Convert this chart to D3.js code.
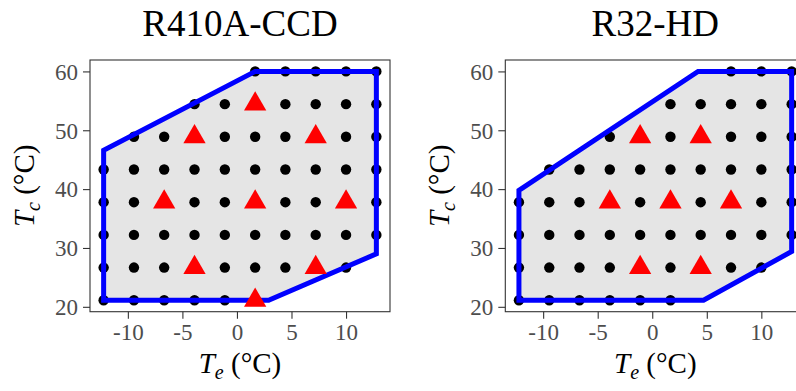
<!DOCTYPE html>
<html>
<head>
<meta charset="utf-8">
<script src="https://cdn.jsdelivr.net/npm/d3@7"></script>
<style>
  body { margin: 0; background: #fff; }
  svg, svg text { font-family: "Liberation Serif", "Times New Roman", serif; }
</style>
</head>
<body>
<div id="chart"></div>
<script>
// evaporating / condensing temperatures of the test grid (°C)
const teGrid = [-12.22, -9.44, -6.67, -3.89, -1.11, 1.67, 4.44, 7.22, 10.00, 12.78];
const tcGrid = [21.11, 26.67, 32.22, 37.78, 43.33, 48.89, 54.44, 60.00];

const xTicks = [-10, -5, 0, 5, 10];
const yTicks = [20, 30, 40, 50, 60];

const titles = ['R410A-CCD', 'R32-HD'];

// dots per row: [Tc, [Te...]]
const r410aDots = [
  [60.00, [1.67, 4.44, 7.22, 10.00, 12.78]],
  [54.44, [-3.89, -1.11, 1.67, 4.44, 7.22, 10.00, 12.78]],
  [48.89, [-9.44, -6.67, -3.89, -1.11, 1.67, 4.44, 7.22, 10.00, 12.78]],
  [43.33, [-12.22, -9.44, -6.67, -3.89, -1.11, 1.67, 4.44, 7.22, 10.00, 12.78]],
  [37.78, [-12.22, -9.44, -6.67, -3.89, -1.11, 1.67, 4.44, 7.22, 10.00, 12.78]],
  [32.22, [-12.22, -9.44, -6.67, -3.89, -1.11, 1.67, 4.44, 7.22, 10.00, 12.78]],
  [26.67, [-12.22, -9.44, -6.67, -3.89, -1.11, 1.67, 4.44, 7.22, 10.00]],
  [21.11, [-12.22, -9.44, -6.67, -3.89, -1.11, 1.67]]
];
const r410aTests = [
  [1.67, 54.44], [-3.89, 48.89], [7.22, 48.89],
  [-6.67, 37.78], [1.67, 37.78], [10.00, 37.78],
  [-3.89, 26.67], [7.22, 26.67], [1.67, 21.11]
];
const r410aEnvelope = [
  [-12.22, 21.11], [-12.22, 46.6], [1.67, 60.00],
  [12.78, 60.00], [12.78, 29.0], [2.9, 21.11]
];

const r32Dots = [
  [60.00, [7.22, 10.00, 12.78]],
  [54.44, [1.67, 4.44, 7.22, 10.00, 12.78]],
  [48.89, [-3.89, -1.11, 1.67, 4.44, 7.22, 10.00, 12.78]],
  [43.33, [-9.44, -6.67, -3.89, -1.11, 1.67, 4.44, 7.22, 10.00, 12.78]],
  [37.78, [-12.22, -9.44, -6.67, -3.89, -1.11, 1.67, 4.44, 7.22, 10.00, 12.78]],
  [32.22, [-12.22, -9.44, -6.67, -3.89, -1.11, 1.67, 4.44, 7.22, 10.00, 12.78]],
  [26.67, [-12.22, -9.44, -6.67, -3.89, -1.11, 1.67, 4.44, 7.22, 10.00]],
  [21.11, [-12.22, -9.44, -6.67, -3.89, -1.11, 1.67]]
];
const r32Tests = [
  [-1.11, 48.89], [4.44, 48.89],
  [-3.89, 37.78], [1.67, 37.78], [7.22, 37.78],
  [-1.11, 26.67], [4.44, 26.67]
];
const r32Envelope = [
  [-12.22, 21.11], [-12.22, 39.8], [4.2, 60.00],
  [12.78, 60.00], [12.78, 29.4], [4.7, 21.11]
];

const width = 796, height = 391;
const panelW = 300, panelTop = 60, panelBottom = 311.7;
const serif = '"Liberation Serif", "Times New Roman", serif';

const svg = d3.select('#chart')
  .append('svg')
  .attr('width', width)
  .attr('height', height);

svg.append('rect').attr('width', width).attr('height', height).attr('fill', '#fff');

// same expansion for both panels (5% of data range)
const x = d3.scaleLinear().domain([-13.47, 14.03]).range([0, panelW]);
const y = d3.scaleLinear().domain([19.17, 61.94]).range([panelBottom, panelTop]);

function drawPanel(left, title, dotRows, tests, envelope) {
  const g = svg.append('g').attr('transform', `translate(${left},0)`);
  const clipId = 'clip' + Math.round(left);
  g.append('clipPath').attr('id', clipId)
    .append('rect').attr('x', 0).attr('y', panelTop)
    .attr('width', panelW).attr('height', panelBottom - panelTop);

  const plot = g.append('g').attr('clip-path', `url(#${clipId})`);
  const line = d3.line().x(d => x(d[0])).y(d => y(d[1])).curve(d3.curveLinearClosed);

  // envelope fill
  plot.append('path')
    .datum(envelope)
    .attr('d', line)
    .attr('fill', '#e5e5e5');

  const dots = dotRows.flatMap(([tc, tes]) => tes.map(te => [te, tc]));
  plot.append('g')
    .selectAll('circle')
    .data(dots)
    .enter().append('circle')
    .attr('cx', d => x(d[0]))
    .attr('cy', d => y(d[1]))
    .attr('r', 5.2)
    .attr('fill', '#000');

  plot.append('path')
    .datum(envelope)
    .attr('d', line)
    .attr('fill', 'none')
    .attr('stroke', '#0000ff')
    .attr('stroke-width', 5)
    .attr('stroke-linejoin', 'miter');

  plot.append('g')
    .selectAll('path')
    .data(tests)
    .enter().append('path')
    .attr('transform', d => `translate(${x(d[0])},${y(d[1])})`)
    .attr('d', d3.symbol(d3.symbolTriangle, 215))
    .attr('fill', '#ff0000');

  // panel border
  g.append('rect')
    .attr('x', 0).attr('y', panelTop)
    .attr('width', panelW).attr('height', panelBottom - panelTop)
    .attr('fill', 'none')
    .attr('stroke', '#333')
    .attr('stroke-width', 1.1);

  // axes
  const xAxis = g.append('g')
    .attr('transform', `translate(0,${panelBottom})`)
    .call(d3.axisBottom(x).tickValues(xTicks).tickSize(7).tickPadding(5));
  const yAxis = g.append('g')
    .call(d3.axisLeft(y).tickValues(yTicks).tickSize(7).tickPadding(5));
  [xAxis, yAxis].forEach(a => {
    a.attr('font-family', serif).attr('font-size', 23);
    a.select('.domain').remove();
    a.selectAll('.tick line').attr('stroke', '#333').attr('stroke-width', 1.1);
    a.selectAll('.tick text').attr('fill', '#4d4d4d');
  });
  xAxis.selectAll('.tick text').text(d => d < 0 ? '-' + Math.abs(d) : d);
  yAxis.selectAll('.tick text').attr('dy', '0.34em');

  // title
  g.append('text')
    .attr('x', panelW / 2)
    .attr('y', 36)
    .attr('text-anchor', 'middle')
    .attr('font-size', 37)
    .attr('fill', '#000')
    .text(title);

  // x label: T_e (°C)
  const xl = g.append('text')
    .attr('x', panelW / 2)
    .attr('y', 373)
    .attr('text-anchor', 'middle')
    .attr('font-size', 29)
    .attr('fill', '#000');
  xl.append('tspan').attr('font-style', 'italic').text('T');
  xl.append('tspan').attr('font-style', 'italic').attr('font-size', 20).attr('dy', 6).text('e');
  xl.append('tspan').attr('dy', -6).text(' (°C)');

  // y label: T_c (°C)
  const yl = g.append('text')
    .attr('transform', `translate(-56,${(panelTop + panelBottom) / 2}) rotate(-90)`)
    .attr('text-anchor', 'middle')
    .attr('font-size', 29)
    .attr('fill', '#000');
  yl.append('tspan').attr('font-style', 'italic').text('T');
  yl.append('tspan').attr('font-style', 'italic').attr('font-size', 20).attr('dy', 6).text('c');
  yl.append('tspan').attr('dy', -6).text(' (°C)');
}

drawPanel(90, titles[0], r410aDots, r410aTests, r410aEnvelope);
drawPanel(505.3, titles[1], r32Dots, r32Tests, r32Envelope);
</script>
</body>
</html>
